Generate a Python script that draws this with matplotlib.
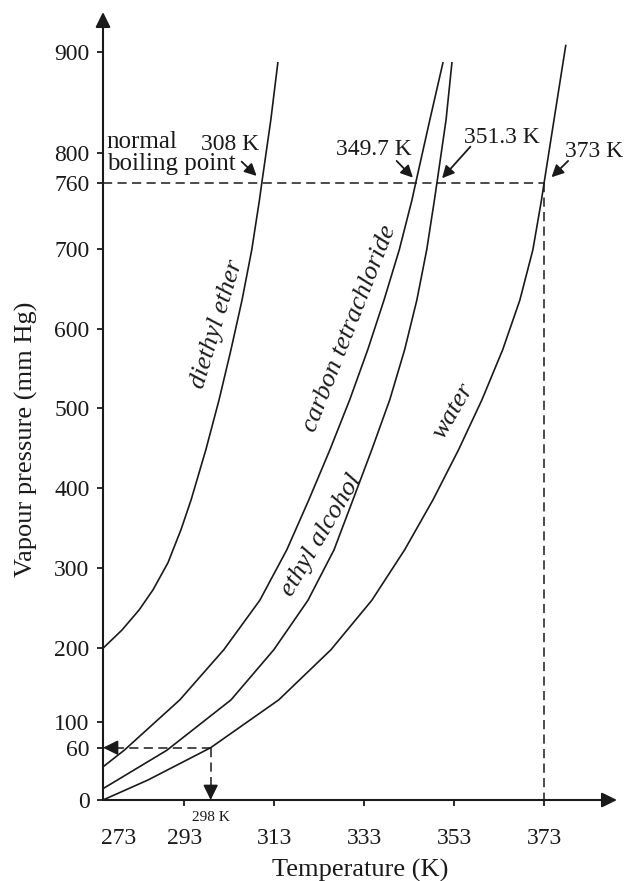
import numpy as np
import matplotlib.pyplot as plt
from matplotlib.transforms import offset_copy

plt.rcParams['font.family'] = ['Liberation Serif', 'DejaVu Serif']

ink = '#1a1a1a'

# ---- data: temperature (K) vs vapour pressure (mm Hg) ----
ether_T = [273, 277.7, 281.9, 285.3, 289.0, 292.2, 294.3, 297.1, 300.0, 302.8, 305.4,
           307.7, 309.5, 310.1, 312.2, 313.8]
ether_P = [200, 223, 248, 273, 307, 348, 385, 448, 511, 574, 636, 699, 744, 761, 833, 889]

ccl4_T = [273, 278.2, 291.9, 301.1, 309.6, 315.8, 320.7, 325.4, 329.8, 333.8, 337.4,
          340.8, 343.6, 344.5, 347.6, 350.5]
ccl4_P = [38, 57, 130, 198, 260, 323, 385, 448, 511, 574, 636, 699, 744, 761, 833, 889]

ethanol_T = [273, 288.7, 302.8, 312.9, 320.5, 326.3, 330.5, 334.7, 338.7, 342.0, 344.7,
             346.9, 348.6, 349.2, 351.2, 352.5]
ethanol_P = [13, 57, 130, 198, 260, 323, 385, 448, 511, 574, 636, 699, 744, 761, 833, 889]

water_T = [273, 284.1, 298, 314.0, 325.6, 334.7, 342.0, 348.3, 354.0, 359.2, 363.8,
           367.6, 370.5, 372.4, 373, 375.2, 377.8]
water_P = [0, 23, 60, 130, 198, 260, 323, 385, 448, 511, 574, 636, 699, 744, 760, 833, 906]

curve_names = ['diethyl ether', 'carbon tetrachloride', 'ethyl alcohol', 'water']

# boiling points: where each curve meets the 760 line on the sketch, and its label
bp_T = [310.1, 344.5, 349.2, 373]
bp_text = ['308 K', '349.7 K', '351.3 K', '373 K']

y_ticks = [0, 60, 100, 200, 300, 400, 500, 600, 700, 760, 800, 900]
x_ticks = [293, 313, 333, 353, 373]

# the sketch is not drawn to scale -> piecewise scale through the tick positions
XK = [260, 273, 293, 298, 313, 333, 353, 373, 400]
XPX = [50.2, 103, 184.3, 210.7, 274.3, 364.3, 454.3, 544.3, 665.8]
YP = [-100, 0, 60, 100, 200, 300, 400, 500, 600, 700, 760, 800, 900, 1000]
YH = [-87, 0, 52.3, 78, 151.7, 231.7, 312.3, 391.7, 471, 551, 617.3, 646.7, 748.3, 849.9]


def fwd_x(t):
    return np.interp(t, XK, XPX)


def inv_x(p):
    return np.interp(p, XPX, XK)


def fwd_y(v):
    return np.interp(v, YP, YH)


def inv_y(h):
    return np.interp(h, YH, YP)


fig = plt.figure(figsize=(6.25, 8.81), dpi=100)
ax = fig.add_axes([103 / 625, 81 / 881, 514 / 625, 788 / 881])
ax.set_xscale('function', functions=(fwd_x, inv_x))
ax.set_yscale('function', functions=(fwd_y, inv_y))
ax.set_xlim(273, 389.2)
ax.set_ylim(0, 939)

for s in ax.spines.values():
    s.set_visible(False)

# axes with arrow heads
axis_arrow = dict(arrowstyle='-|>,head_length=0.65,head_width=0.32', lw=1.5,
                  color=ink, mutation_scale=14, shrinkA=0, shrinkB=0)
ax.annotate('', xy=(1, 0), xytext=(0, 0), xycoords='axes fraction', arrowprops=axis_arrow)
ax.annotate('', xy=(0, 1), xytext=(0, 0), xycoords='axes fraction', arrowprops=axis_arrow)

# curves
for T, P in [(ether_T, ether_P), (ccl4_T, ccl4_P), (ethanol_T, ethanol_P), (water_T, water_P)]:
    ax.plot(T, P, color=ink, lw=1.2)

# dashed guide lines
dash = dict(color=ink, lw=1.1, ls=(0, (6, 3.5)))
ax.plot([273, 373], [760, 760], **dash)
ax.plot([373, 373], [760, 0], **dash)
ax.plot([298, 274], [60, 60], **dash)
ax.plot([298, 298], [60, 2], **dash)
head = dict(arrowstyle='-|>,head_length=0.65,head_width=0.32', lw=1.2,
            color=ink, mutation_scale=14, shrinkA=0, shrinkB=0)
ax.annotate('', xy=(273, 60), xytext=(14, 0), textcoords='offset pixels', arrowprops=head)
ax.annotate('', xy=(298, 0), xytext=(0, 14), textcoords='offset pixels', arrowprops=head)

# ticks
ax.set_yticks(y_ticks)
ax.set_yticklabels([str(v) for v in y_ticks])
ax.set_xticks(x_ticks)
ax.set_xticklabels([str(v) for v in x_ticks])
ax.tick_params(direction='out', length=4.3, width=1.3, color=ink, labelsize=17, labelcolor=ink)
ax.tick_params(axis='y', pad=5.5)
ax.tick_params(axis='x', pad=15.8)
ax.annotate('273', xy=(273, 0), xytext=(15.3, -28), textcoords='offset pixels',
            ha='center', va='top', fontsize=17, color=ink)
ax.annotate('298 K', xy=(298, 0), xytext=(0, -17.5), textcoords='offset pixels',
            ha='center', va='center', fontsize=11, color=ink)

ax.set_xlabel('Temperature (K)', fontsize=19, color=ink)
ax.xaxis.set_label_coords(0.5, -0.0895)
ax.xaxis.label.set_va('center')
ax.set_ylabel('Vapour pressure (mm Hg)', fontsize=19, color=ink)
ax.yaxis.set_label_coords(-0.1498, 0.458)
ax.yaxis.label.set_va('center')

# curve labels
label_pos = [(299.4, 606, 73), (329.8, 601, 68.5), (323.5, 341, 59.4), (352.9, 497, 60)]
for name, (tx, ty, rot) in zip(curve_names, label_pos):
    ax.text(tx, ty, name, rotation=rot, rotation_mode='anchor', ha='center', va='center',
            style='italic', fontsize=19, color=ink)

# boiling point labels with arrows
ax.annotate('normal', xy=(273, 760), xytext=(3.7, 34.4), textcoords='offset pixels',
            ha='left', va='baseline', fontsize=18, color=ink)
ax.annotate('boiling point', xy=(273, 760), xytext=(3.7, 12.7), textcoords='offset pixels',
            ha='left', va='baseline', fontsize=18, color=ink)

text_off = [(-32.3, 33), (-42, 27.7), (65.3, 39.4), (49.7, 26)]
tail_off = [(-20.3, 21), (-19.3, 21.7), (33.3, 36), (24, 21.7)]
tip_off = [(-5.3, 6.7), (-3, 5), (5, 4.4), (7.4, 5.4)]
small_head = dict(arrowstyle='-|>,head_length=0.6,head_width=0.3', lw=1.3,
                  color=ink, mutation_scale=12, shrinkA=0, shrinkB=0)
for T, txt, to, ta, tp in zip(bp_T, bp_text, text_off, tail_off, tip_off):
    ax.annotate(txt, xy=(T, 760), xytext=to, textcoords='offset pixels',
                ha='center', va='baseline', fontsize=17, color=ink)
    tip_tr = offset_copy(ax.transData, fig=fig, x=tp[0], y=tp[1], units='dots')
    tail_tr = offset_copy(ax.transData, fig=fig, x=ta[0], y=ta[1], units='dots')
    ax.annotate('', xy=(T, 760), xycoords=tip_tr, xytext=(T, 760), textcoords=tail_tr,
                arrowprops=small_head)

fig.savefig('out.png', dpi=100)
